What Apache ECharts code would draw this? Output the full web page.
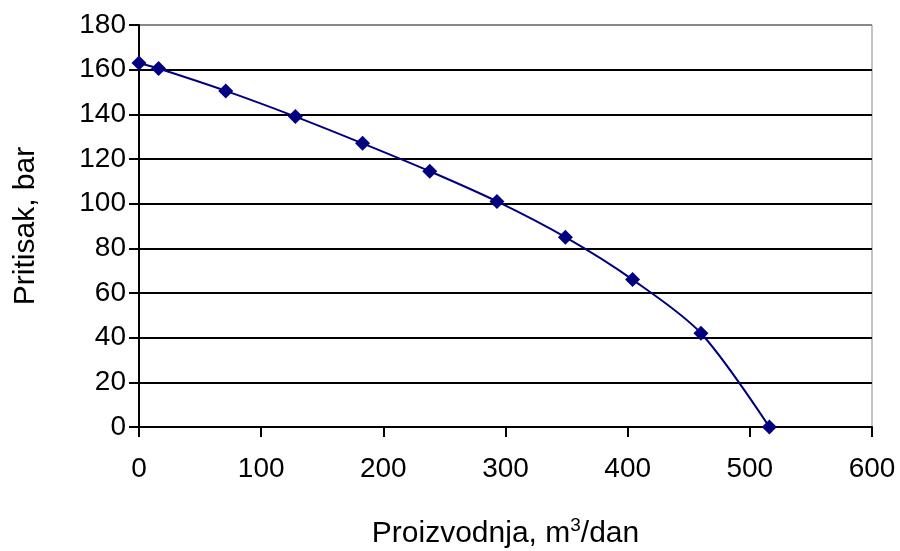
<!DOCTYPE html>
<html>
<head>
<meta charset="utf-8">
<script src="https://cdn.jsdelivr.net/npm/echarts@6/dist/echarts.min.js"></script>
<style>
  html, body { margin: 0; padding: 0; background: #fff; }
  #chart { width: 900px; height: 551px; }
</style>
</head>
<body>
<div id="chart"></div>
<script>
// proizvodnja (m3/dan) i pritisak (bar)
var proizvodnja = [0, 16, 71, 128, 183, 238, 293, 349, 404, 460, 516];
var pritisak = [163, 160.5, 150.5, 139, 127, 114.5, 101, 85, 66, 42, 0];

var tacke = proizvodnja.map(function (x, i) { return [x, pritisak[i]]; });

var chart = echarts.init(document.getElementById('chart'));
chart.setOption({
    backgroundColor: '#fff',
    animation: false,
    grid: {
        left: 139, right: 28, top: 25, bottom: 124,
        outerBoundsMode: 'none',
        show: true, borderColor: '#888', borderWidth: 1
    },
    xAxis: {
        type: 'value',
        min: 0, max: 600, interval: 100,
        name: '{a|Proizvodnja, m}{s|3}{a|/dan}',
        nameLocation: 'middle',
        nameGap: 89,
        nameTextStyle: {
            rich: {
                a: { fontFamily: 'Liberation Sans', fontSize: 30, color: '#000' },
                s: { fontFamily: 'Liberation Sans', fontSize: 19, color: '#000', verticalAlign: 'top', padding: [0, 0, 16, 0] }
            }
        },
        axisLine: { lineStyle: { color: '#000', width: 2 } },
        axisTick: { inside: false, length: 10, lineStyle: { color: '#000', width: 2 } },
        axisLabel: { fontFamily: 'Liberation Sans', fontSize: 28, color: '#000', margin: 28 },
        splitLine: { show: false }
    },
    yAxis: {
        type: 'value',
        min: 0, max: 180, interval: 20,
        name: 'Pritisak, bar',
        nameLocation: 'middle',
        nameGap: 98,
        nameTextStyle: { fontFamily: 'Liberation Sans', fontSize: 30, color: '#000' },
        axisLine: { show: true, lineStyle: { color: '#000', width: 2 } },
        axisTick: { show: true, length: 10, lineStyle: { color: '#000', width: 2 } },
        axisLabel: { fontFamily: 'Liberation Sans', fontSize: 28, color: '#000', margin: 13 },
        splitLine: {
            show: true,
            lineStyle: {
                color: ['#000', '#000', '#000', '#000', '#000', '#000', '#000', '#000', '#000', '#888'],
                width: 2
            }
        }
    },
    series: [{
        type: 'line',
        data: tacke,
        smooth: 0.3,
        symbol: 'diamond',
        symbolSize: 15,
        itemStyle: { color: '#000080' },
        lineStyle: { color: '#000080', width: 2 }
    }]
});
</script>
</body>
</html>
